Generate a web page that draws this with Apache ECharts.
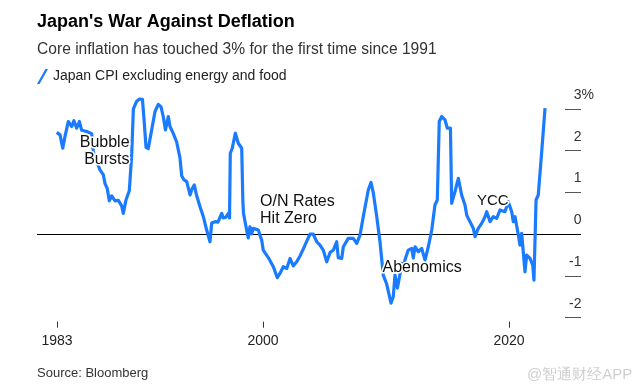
<!DOCTYPE html>
<html><head><meta charset="utf-8">
<script src="https://cdn.jsdelivr.net/npm/echarts@6/dist/echarts.min.js"></script>
<style>html,body{margin:0;padding:0;background:#fff}#c{width:632px;height:391px}</style>
</head><body><div id="c"></div>
<script>
// Data (decimal year, % y/y)
const years = [1983.23,1983.50,1983.72,1983.90,1984.17,1984.45,1984.63,1984.85,1985.07,1985.26,1985.67,1986.07,1986.20,1986.42,1986.75,1987.02,1987.15,1987.34,1987.50,1987.70,1987.97,1988.24,1988.51,1988.64,1988.86,1989.13,1989.33,1989.46,1989.72,1989.96,1990.20,1990.33,1990.49,1990.67,1990.95,1991.22,1991.49,1991.71,1991.89,1992.07,1992.30,1992.44,1992.71,1992.98,1993.25,1993.39,1993.58,1993.80,1994.07,1994.23,1994.41,1994.61,1994.88,1995.15,1995.42,1995.69,1995.83,1996.10,1996.34,1996.64,1996.77,1996.99,1997.18,1997.28,1997.34,1997.50,1997.75,1997.99,1998.27,1998.36,1998.41,1998.67,1998.80,1998.94,1999.08,1999.21,1999.62,1999.89,2000.02,2000.43,2000.84,2001.16,2001.38,2001.65,2001.93,2002.20,2002.46,2002.74,2003.01,2003.28,2003.55,2003.82,2004.09,2004.37,2004.63,2004.90,2005.18,2005.45,2005.72,2005.99,2006.12,2006.40,2006.53,2006.93,2007.34,2007.62,2007.89,2008.15,2008.56,2008.78,2008.97,2009.24,2009.51,2009.78,2010.06,2010.19,2010.41,2010.59,2010.73,2010.93,2011.14,2011.28,2011.41,2011.54,2011.81,2012.09,2012.22,2012.36,2012.63,2012.90,2013.17,2013.44,2013.72,2013.98,2014.17,2014.33,2014.53,2014.80,2014.98,2015.24,2015.34,2015.61,2015.88,2016.15,2016.42,2016.56,2016.69,2016.83,2017.10,2017.24,2017.50,2017.78,2018.05,2018.19,2018.46,2018.72,2019.00,2019.27,2019.67,2019.94,2020.22,2020.35,2020.49,2020.76,2020.89,2021.03,2021.16,2021.30,2021.44,2021.71,2021.93,2022.03,2022.20,2022.38,2022.66,2022.93];
const cpi = [2.44,2.38,2.06,2.34,2.70,2.58,2.72,2.54,2.70,2.49,2.46,2.41,1.98,1.78,1.54,1.42,1.22,1.09,0.80,0.92,0.80,0.81,0.68,0.50,0.82,1.04,1.93,3.00,3.18,3.24,3.23,2.74,2.08,2.05,2.50,2.94,3.11,3.05,2.82,2.50,2.82,2.58,2.41,2.21,1.83,1.40,1.30,1.26,0.94,1.09,1.18,0.92,0.66,0.42,0.10,-0.18,0.27,0.30,0.29,0.50,0.39,0.41,0.50,0.39,1.94,2.06,2.42,2.18,2.06,0.82,0.51,0.10,-0.09,0.18,0.01,0.14,0.10,-0.14,-0.38,-0.56,-0.78,-1.04,-0.94,-0.78,-0.82,-0.58,-0.76,-0.66,-0.52,-0.35,-0.17,0.00,0.00,-0.18,-0.26,-0.38,-0.66,-0.44,-0.38,-0.18,-0.56,-0.58,-0.30,-0.10,-0.10,-0.22,-0.02,0.42,1.06,1.24,0.99,0.44,-0.18,-0.98,-1.20,-1.18,-1.65,-1.50,-0.98,-1.29,-0.95,-0.70,-0.86,-0.62,-0.38,-0.34,-0.57,-0.30,-0.42,-0.34,-0.62,-0.30,0.10,0.70,0.82,2.70,2.82,2.74,2.54,2.54,0.74,1.02,1.34,0.94,0.70,0.46,0.38,0.30,0.14,-0.06,0.14,0.26,0.42,0.54,0.30,0.42,0.38,0.58,0.54,0.78,0.54,0.30,0.42,-0.02,-0.26,0.02,-0.42,-0.90,-0.50,-0.58,-0.74,-1.10,0.82,0.94,1.98,3.02];

const xTickValues = [1983.25, 2000, 2020];
const xTickLabels = ['1983', '2000', '2020'];
const yTickValues = [-2, -1, 0, 1, 2, 3];
const yTickLabels = ['-2', '-1', '0', '1', '2', '3'];

const annoText = ['Bubble\nBursts', 'O/N Rates\nHit Zero', 'Abenomics', 'YCC'];
const annoX = [1989.15, 1999.76, 2009.72, 2017.40];
const annoY = [1.98, 0.58, -0.79, 0.80];
const annoAlign = ['right', 'left', 'left', 'left'];
const annoSize = [16, 16, 16, 15];

const titleText = "Japan's War Against Deflation";
const subtitleText = 'Core inflation has touched 3% for the first time since 1991';
const seriesName = 'Japan CPI excluding energy and food';
const sourceText = 'Source: Bloomberg';
const watermarkText = '@智通财经APP';

const BLUE = '#1a7bff';
const FONT = '"Liberation Sans", Arial, sans-serif';

const chart = echarts.init(document.getElementById('c'), null, {renderer: 'canvas'});
const lineData = years.map((y, i) => [y, cpi[i]]);

chart.setOption({
  animation: false,
  backgroundColor: '#fff',
  textStyle: {fontFamily: FONT},
  title: [
    {text: titleText, left: 32, top: 8, textStyle: {fontFamily: FONT, fontSize: 18, fontWeight: 'bold', color: '#000'}},
    {text: subtitleText, left: 32, top: 37, textStyle: {fontFamily: FONT, fontSize: 15.6, fontWeight: 'normal', color: '#333'}},
    {text: sourceText, left: 32, top: 362, textStyle: {fontFamily: FONT, fontSize: 13, fontWeight: 'normal', color: '#333'}},
    {text: watermarkText, left: 522, top: 362, textStyle: {fontFamily: FONT, fontSize: 15, fontWeight: 'normal', color: '#cfcfcf'}}
  ],
  legend: {
    left: 32, top: 64, itemWidth: 11, itemHeight: 15, itemGap: 6,
    icon: 'path://M0,15 L2.6,15 L11,0 L8.4,0 Z',
    textStyle: {fontFamily: FONT, fontSize: 14, color: '#222'},
    data: [{name: seriesName, itemStyle: {color: BLUE}}]
  },
  grid: {left: 37, right: 51, top: 109, bottom: 73.3},
  xAxis: {
    type: 'value', min: 1981.626, max: 2025.854, offset: 4,
    axisLine: {show: false, onZero: false},
    splitLine: {show: false},
    axisTick: {show: true, customValues: xTickValues, length: 6, lineStyle: {color: '#333', width: 1}},
    axisLabel: {
      customValues: xTickValues, margin: 12, fontSize: 14, color: '#222', fontFamily: FONT,
      formatter: v => xTickLabels[xTickValues.indexOf(v)]
    }
  },
  yAxis: {
    type: 'value', position: 'right', min: -2, max: 3, interval: 1,
    axisLine: {show: false},
    splitLine: {show: false},
    axisTick: {show: true, inside: true, length: 16, lineStyle: {color: '#555', width: 1}},
    axisLabel: {
      margin: 13, align: 'right', verticalAlign: 'bottom', padding: [0, 0, 6, 0],
      formatter: v => {
        const i = yTickValues.indexOf(v);
        const t = yTickLabels[i];
        return v === 3 ? '{n|' + t + '}{n|%}' : '{n|' + t + '}{s|}';
      },
      rich: {
        n: {fontSize: 14, lineHeight: 16, color: '#333', fontFamily: FONT},
        s: {width: 12.5, fontSize: 14, lineHeight: 16}
      }
    }
  },
  series: [{
    name: seriesName, type: 'line', data: lineData, showSymbol: false, clip: false,
    lineStyle: {color: BLUE, width: 3.2, join: 'round'}, itemStyle: {color: BLUE},
    markLine: {
      silent: true, symbol: 'none', label: {show: false},
      lineStyle: {color: '#000', width: 1, type: 'solid'},
      data: [{yAxis: 0}], z: 1
    },
    markPoint: {
      symbol: 'circle', symbolSize: 0, silent: true,
      data: annoText.map((t, i) => ({
        coord: [annoX[i], annoY[i]], name: t,
        label: {
          show: true, position: 'inside', formatter: '{b}', align: annoAlign[i], verticalAlign: 'middle',
          fontSize: annoSize[i], lineHeight: 17, color: '#111', fontFamily: FONT,
          textBorderColor: '#fff', textBorderWidth: 3
        }
      }))
    }
  }]
});
</script></body></html>
